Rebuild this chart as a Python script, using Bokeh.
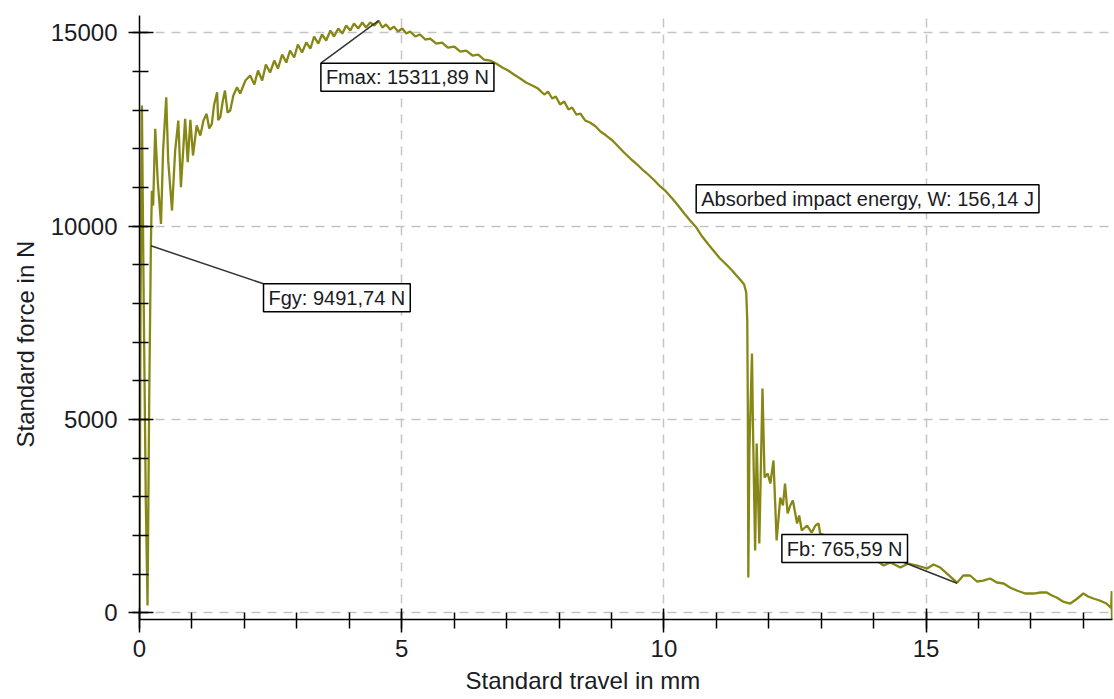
from bokeh.plotting import figure
from bokeh.models import FixedTicker, Label, Range1d, Title
from bokeh.embed import file_html
from bokeh.resources import INLINE

# ---- data ----
travel_mm = [
    0.0, 0.02, 0.046, 0.08, 0.12, 0.153, 0.185, 0.217, 0.236, 0.26, 0.30, 0.347, 0.41, 0.45, 0.51,
    0.547, 0.62, 0.68, 0.74, 0.79, 0.87, 0.92, 0.97, 1.02, 1.09, 1.16, 1.22, 1.28, 1.33, 1.38,
    1.42, 1.48, 1.50, 1.54, 1.59, 1.63, 1.68, 1.73, 1.79, 1.86, 1.92, 2.02, 2.11, 2.19, 2.26,
    2.34, 2.41, 2.49, 2.57, 2.64, 2.72, 2.80, 2.87, 2.95, 3.02, 3.10, 3.18, 3.26, 3.33, 3.41,
    3.48, 3.56, 3.64, 3.71, 3.79, 3.87, 3.94, 4.02, 4.09, 4.17, 4.25, 4.32, 4.40, 4.48, 4.56,
    4.63, 4.70, 4.78, 4.85, 4.93, 5.01, 5.09, 5.16, 5.26, 5.35, 5.45, 5.54, 5.66, 5.77, 5.88,
    6.00, 6.12, 6.23, 6.35, 6.46, 6.57, 6.69, 6.80, 6.92, 7.03, 7.14, 7.26, 7.37, 7.49, 7.60,
    7.72, 7.79, 7.87, 7.94, 8.02, 8.10, 8.18, 8.25, 8.33, 8.41, 8.50, 8.59, 8.70, 8.79, 8.90,
    9.02, 9.13, 9.24, 9.36, 9.47, 9.59, 9.70, 9.82, 9.93, 10.04, 10.16, 10.27, 10.39, 10.50, 10.62,
    10.73, 10.85, 10.96, 11.07, 11.19, 11.30, 11.40, 11.47, 11.53, 11.57, 11.59, 11.60, 11.61, 11.63, 11.68,
    11.70, 11.74, 11.77, 11.82, 11.88, 11.92, 11.98, 12.03, 12.09, 12.15, 12.22, 12.27, 12.31, 12.36, 12.41,
    12.46, 12.54, 12.58, 12.63, 12.73, 12.82, 12.89, 12.95, 12.98, 13.08, 13.27, 13.46, 13.65, 13.84, 14.06,
    14.19, 14.32, 14.51, 14.66, 14.83, 15.02, 15.14, 15.27, 15.42, 15.59, 15.71, 15.84, 15.97, 16.09, 16.22,
    16.35, 16.48, 16.60, 16.73, 16.89, 17.05, 17.18, 17.30, 17.40, 17.49, 17.61, 17.75, 17.86, 18.00, 18.09,
    18.19, 18.31, 18.44, 18.53, 18.54, 18.545,
]
force_n = [
    0, 8076, 13120, 8076, 2900, 190, 5490, 9492, 10916, 10530, 12516, 11180, 10059, 11955, 13333,
    11700, 10403, 11955, 12731, 11006, 12774, 11653, 12749, 11826, 12602, 12343, 12731, 12904, 12525, 12645,
    13118, 13463, 12740, 12816, 13248, 13507, 12938, 12990, 13378, 13592, 13429, 13765, 13894, 13661, 14024,
    13765, 14179, 13972, 14282, 14075, 14437, 14230, 14541, 14360, 14697, 14490, 14748, 14593, 14903, 14722,
    14955, 14800, 15059, 14903, 15110, 14981, 15188, 15059, 15240, 15110, 15266, 15136, 15266, 15188, 15312,
    15136, 15214, 15085, 15162, 15033, 15110, 14981, 15033, 14903, 14955, 14826, 14852, 14722, 14748, 14619,
    14645, 14515, 14541, 14412, 14437, 14308, 14282, 14205, 14101, 14024, 13920, 13817, 13713, 13636, 13558,
    13403, 13481, 13300, 13352, 13145, 13222, 13015, 13067, 12886, 12912, 12731, 12680, 12576, 12447, 12343,
    12214, 12059, 11904, 11748, 11619, 11464, 11335, 11180, 11025, 10896, 10715, 10534, 10327, 10147, 9963,
    9731, 9524, 9343, 9162, 9007, 8852, 8697, 8593, 8490, 8283, 7559, 5490, 913, 4196, 6703,
    4712, 1612, 4377, 1792, 5800, 3499, 3603, 3344, 3939, 1870, 2982, 2775, 3344, 2568, 2775,
    2904, 2309, 2516, 2128, 2257, 2076, 2257, 2309, 2051, 1999, 1870, 1766, 1663, 1534, 1352,
    1223, 1300, 1171, 1274, 1223, 1146, 1248, 1171, 990, 780, 965, 965, 810, 835, 887,
    784, 758, 654, 577, 499, 499, 525, 525, 447, 396, 292, 240, 344, 499, 422,
    370, 318, 240, 130, 560, -170,
]

x_major = [0, 5, 10, 15]
x_minor = list(range(0, 19))
y_major = [0, 5000, 10000, 15000]
y_minor = list(range(0, 16000, 1000))

x_title = "Standard travel in mm"
y_title = "Standard force in N"
fmax_text = "Fmax: 15311,89 N"
fgy_text = "Fgy: 9491,74 N"
w_text = "Absorbed impact energy, W: 156,14 J"
fb_text = "Fb: 765,59 N"

FONT = "Liberation Sans"
TXT = "#1b1b24"

p = figure(width=1114, height=699, output_backend="svg", toolbar_location=None,
           x_range=Range1d(0, 18.555), y_range=Range1d(-173, 15447),
           min_border_left=139, min_border_right=2, min_border_top=15, min_border_bottom=80)
p.outline_line_color = None
p.background_fill_color = "white"
p.border_fill_color = "white"

# grid
p.xgrid.ticker = FixedTicker(ticks=[5, 10, 15])
p.ygrid.ticker = FixedTicker(ticks=y_major)
for g in (p.xgrid, p.ygrid):
    g.grid_line_color = "#c4c4c4"
    g.grid_line_dash = "9 7"
    g.grid_line_width = 1.5

# axes
xa = p.xaxis[0]
ya = p.yaxis[0]
xa.ticker = FixedTicker(ticks=x_major, minor_ticks=x_minor)
ya.ticker = FixedTicker(ticks=y_major, minor_ticks=y_minor)
for a in (xa, ya):
    a.axis_line_color = "black"
    a.axis_line_width = 1.5
    a.major_tick_line_color = "black"
    a.minor_tick_line_color = "black"
    a.major_tick_line_width = 1.5
    a.minor_tick_line_width = 1.5
    a.major_label_text_font = FONT
    a.major_label_text_font_size = "24px"
    a.major_label_text_color = TXT
xa.major_tick_in = 11
xa.major_tick_out = 13
xa.minor_tick_in = 7
xa.minor_tick_out = 9
xa.major_label_standoff = 7
ya.major_tick_in = 14
ya.major_tick_out = 11
ya.minor_tick_in = 9
ya.minor_tick_out = 7
ya.major_label_standoff = 11
ya.major_label_orientation = "horizontal"

# axis titles (off-centre as in the reference)
p.add_layout(Title(text=x_title, align="left", offset=326, standoff=10,
                   text_font=FONT, text_font_size="24px", text_font_style="normal",
                   text_color=TXT), "below")
p.add_layout(Title(text=y_title, align="left", offset=172, standoff=17,
                   text_font=FONT, text_font_size="24px", text_font_style="normal",
                   text_color=TXT), "left")

# curve
p.line(travel_mm, force_n, line_color="#878716", line_width=2.3)

# leader lines
p.segment(x0=[4.56, 0.217, 15.59], y0=[15311.89, 9491.74, 765.59],
          x1=[3.459, 2.365, 14.57], y1=[14213, 8508, 1308],
          line_color="#333333", line_width=1.5)

pad = dict(left=5, right=5, top=3, bottom=3)
for txt, bx, by in [(fmax_text, 3.459, 14213), (fgy_text, 2.365, 8508),
                    (w_text, 10.616, 11068), (fb_text, 12.25, 2025)]:
    p.add_layout(Label(x=bx, y=by, text=txt, anchor="top_left",
                       text_font=FONT, text_font_size="20px", text_color=TXT,
                       background_fill_color="white", border_line_color="black",
                       border_line_width=1.5, padding=pad))

open("out.html", "w").write(file_html(p, INLINE))
